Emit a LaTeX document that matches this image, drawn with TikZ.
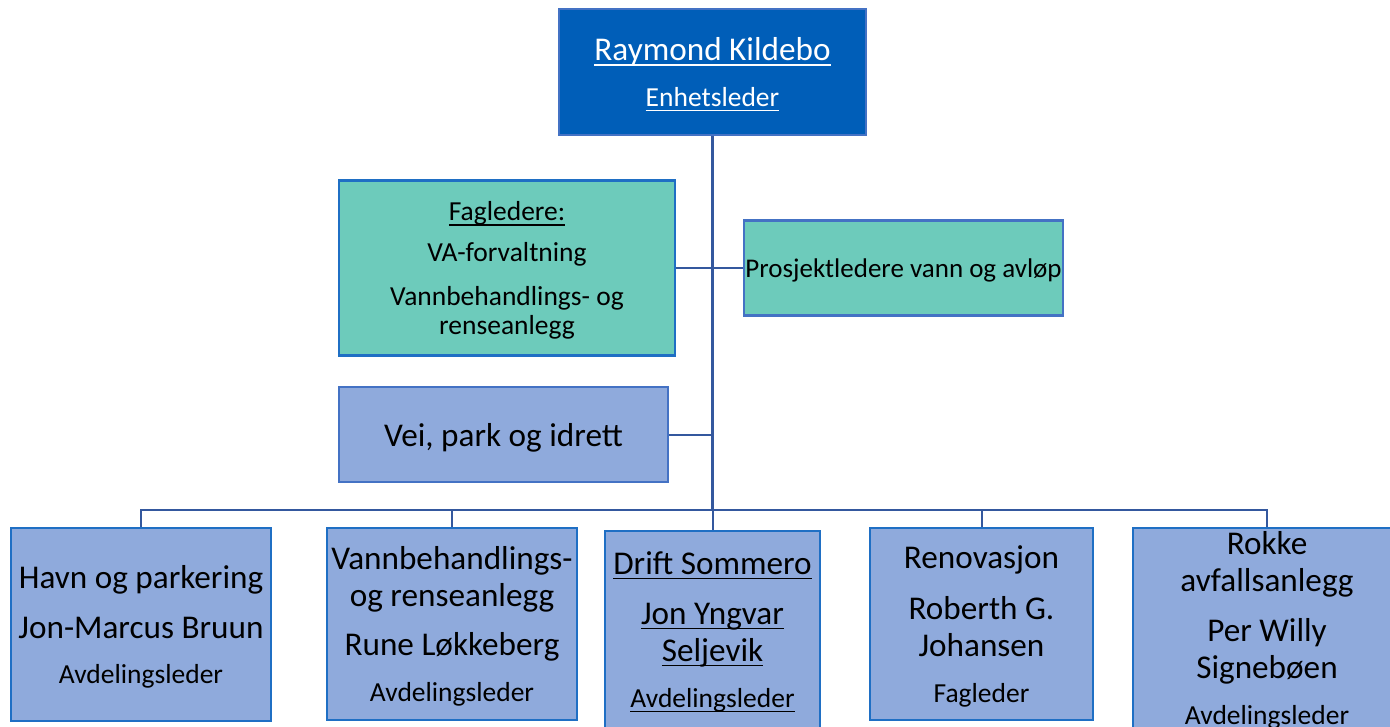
\documentclass[tikz,border=0pt]{standalone}
\usepackage{fontspec}
\setmainfont{Carlito}
\usepackage{tikz}

\definecolor{topblue}{RGB}{0,94,184}
\definecolor{boxteal}{RGB}{109,203,187}
\definecolor{boxblue}{RGB}{143,170,220}
\definecolor{edgeblue}{RGB}{31,111,196}
\definecolor{edgelight}{RGB}{68,114,196}
\definecolor{linkblue}{RGB}{52,88,158}

\newcommand{\lgfont}{\fontsize{33.2}{37}\selectfont}
\newcommand{\smfont}{\fontsize{27.5}{29}\selectfont}
\newcommand{\ulin}[1]{\setbox0\hbox{#1}\rlap{\rule[-5pt]{\wd0}{1.4pt}}\box0}

\begin{document}
\begin{tikzpicture}[x=1pt, y=-1pt,
		box/.style={draw=edgeblue, line width=2.5pt, fill=boxblue, inner sep=0pt, text depth=0pt, align=center, font=\lgfont},
		link/.style={draw=linkblue, line width=2pt}]
	\useasboundingbox (0,0) rectangle (1390,726);
	\node[box, fill=topblue, draw=edgelight, text=white, minimum width=307pt, minimum height=126pt] (top) at (712.5,72)
		{\ulin{Raymond Kildebo}\\[8.5pt]{\smfont\ulin{Enhetsleder}}};
	\node[box, fill=boxteal, font=\smfont, minimum width=336pt, minimum height=175pt] (fag) at (507,268)
		{\ulin{Fagledere:}\\[12pt]VA-forvaltning\\[15pt]Vannbehandlings- og\\renseanlegg};
	\node[box, fill=boxteal, draw=edgelight, font=\fontsize{27}{29}\selectfont, minimum width=319pt, minimum height=95pt] (prosj) at (903.5,268)
		{Prosjektledere vann og avløp};
	\node[box, draw=edgelight, minimum width=329pt, minimum height=95pt] (vei) at (503.5,434.5)
		{Vei, park og idrett};
	\node[box, minimum width=260pt, minimum height=193pt] (b1) at (141,624.5)
		{Havn og parkering\\[13pt]Jon-Marcus Bruun\\[8.5pt]{\smfont Avdelingsleder}};
	\node[box, minimum width=250pt, minimum height=192pt] (b2) at (452,624)
		{Vannbehandlings-\\og renseanlegg\\[12pt]Rune Løkkeberg\\[8.5pt]{\smfont Avdelingsleder}};
	\node[box, minimum width=215pt, minimum height=197pt] (b3) at (712.5,629.5)
		{\ulin{Drift Sommero}\\[13pt]\ulin{Jon Yngvar}\\\ulin{Seljevik}\\[9pt]{\smfont\ulin{Avdelingsleder}}};
	\node[box, minimum width=223pt, minimum height=192pt] (b4) at (981.5,624)
		{Renovasjon\\[14pt]Roberth G.\\Johansen\\[8.5pt]{\smfont Fagleder}};
	\node[box, minimum width=268pt, minimum height=200pt] (b5) at (1267,628)
		{Rokke\\avfallsanlegg\\[13pt]Per Willy\\Signebøen\\[8.5pt]{\smfont Avdelingsleder}};
	\coordinate (bus) at (712.5,510);
	\draw[link, line width=3pt] (top.south) -- (bus);
	\draw[link] (bus) -- (b3.north);
	\draw[link] (b1.north) |- (bus) -| (b5.north);
	\foreach \b in {b2,b4}
		\draw[link] (\b.north) -- (\b.north |- bus);
	\draw[link] (fag.east) -- (prosj.west);
	\draw[link] (vei.east) -- (vei.east -| bus);
\end{tikzpicture}
\end{document}
